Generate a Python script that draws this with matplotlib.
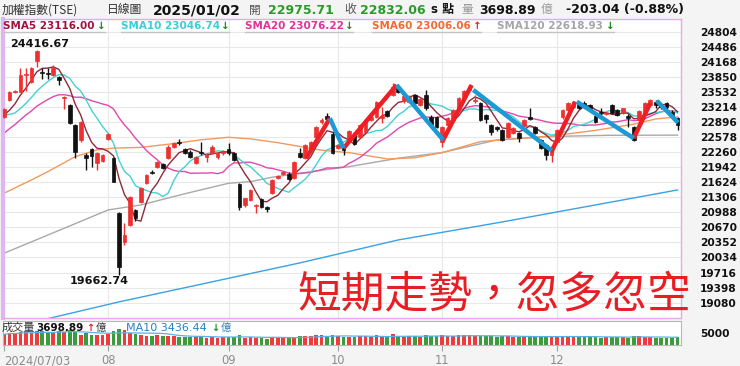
import matplotlib
matplotlib.use("Agg")
import matplotlib.pyplot as plt
import numpy as np
import pandas as pd

# trading days (TWSE, typhoon / holiday closures removed)
holidays = ["2024-07-24", "2024-07-25", "2024-09-17", "2024-10-02", "2024-10-03",
            "2024-10-10", "2024-10-31", "2025-01-01"]
days = pd.bdate_range("2024-07-03", "2025-01-02")
days = days[~days.isin(pd.to_datetime(holidays))]

opens = [23009, 23361, 23520, 23537, 23880, 23748, 24184, 23960, 23940, 23890, 23854, 23397, 23256, 22834,
         22517, 22200, 22327, 22025, 22073,
         22538, 22131, 20981, 20356, 20725, 21038, 21214, 21602, 21850, 21953, 22010, 22131, 22362, 22480,
         22320, 22270, 22025, 22260, 22160, 22236, 22164, 22236,
         22320, 22236, 21587, 21144, 21250, 21130, 21264, 21109, 21391, 21720, 21800, 21800, 21708, 22236,
         22131, 22330, 22587, 22900, 23024, 22643,
         22341, 22390, 22482, 22658, 22587, 22692, 22940, 23009, 22990, 23136, 23467, 23620, 23330, 23325,
         23467, 23256, 23467, 23009, 23009,
         22482, 22834, 22940, 23150, 23397, 23573, 23330, 23292, 23045, 22834, 22798, 22728, 22587, 22658,
         22658, 22812, 23000, 22798, 22517, 22411, 22200,
         22482, 22996, 23150, 23220, 23298, 23304, 23256, 23024, 23114, 23060, 23256, 23150, 23080, 23020,
         22798, 22940, 23114, 23256, 23325, 23280, 23300, 23114, 22975.71]
highs = [23200, 23550, 23580, 24031, 24031, 24050, 24416.67, 24031, 24031, 24100, 23870, 23452, 23280, 22860,
         22920, 22236, 22350, 22260, 22220,
         22660, 22150, 21000, 20758, 21330, 21060, 21520, 21800, 21880, 22080, 22030, 22400, 22470, 22531,
         22340, 22300, 22180, 22468, 22236, 22400, 22260, 22300,
         22447, 22260, 21600, 21300, 21480, 21165, 21290, 21130, 21700, 21780, 21870, 21830, 22080, 22341,
         22430, 22500, 22810, 22976, 23080, 22680,
         22430, 22420, 22730, 22690, 22860, 22960, 23030, 23350, 23220, 23160, 23713, 23660, 23470, 23460,
         23490, 23400, 23573, 23040, 23030,
         22820, 23000, 23170, 23420, 23580, 23678, 23467, 23310, 23070, 22860, 22820, 22750, 22890, 22800,
         22680, 22960, 23186, 22820, 22540, 22430, 22400,
         22750, 23170, 23320, 23350, 23320, 23330, 23280, 23050, 23186, 23110, 23280, 23170, 23200, 23060,
         22820, 23160, 23320, 23380, 23360, 23300, 23320, 23140, 23000]
lows = [22980, 23340, 23500, 23520, 23560, 23720, 24065, 23800, 23800, 23870, 23678, 23171, 22850, 22131,
        22480, 21883, 21953, 21883, 22050,
        22510, 21620, 19662.74, 20300, 20700, 20800, 21190, 21580, 21790, 21930, 21900, 22110, 22340, 22411,
        22210, 22130, 22000, 22200, 22058, 22210, 22116, 22200,
        22200, 22070, 21038, 21100, 21220, 20969, 21080, 21000, 21370, 21700, 21780, 21670, 21690, 22130,
        22120, 22300, 22560, 22850, 22920, 22220,
        22320, 22200, 22460, 22400, 22560, 22670, 22920, 22990, 22869, 23000, 23440, 23500, 23300, 23300,
        23270, 23230, 23160, 22800, 22770,
        22375, 22810, 22920, 23130, 23380, 23550, 23300, 22920, 22869, 22622, 22710, 22500, 22560, 22640,
        22482, 22790, 22940, 22650, 22320, 22095, 22058,
        22460, 22970, 23130, 23200, 23170, 23200, 23130, 22880, 23045, 23040, 23060, 23020, 23060, 22798,
        22500, 22920, 23100, 23240, 23200, 23170, 23170, 23020, 22728]
closes = [23171, 23524, 23556, 23890, 23910, 24031, 24390, 23930, 23915, 24031, 23784, 23431, 22870, 22257,
          22891, 22131, 22185, 22236, 22200,
          22637, 21636, 19830, 20510, 21302, 20875, 21496, 21777, 21820, 22058, 21919, 22375, 22447, 22455,
          22236, 22151, 22164, 22240, 22190, 22375, 22236, 22285,
          22236, 22095, 21109, 21285, 21460, 21150, 21109, 21053, 21672, 21750, 21847, 21688, 22058, 22151,
          22411, 22480, 22785, 22940, 22950, 22236,
          22411, 22306, 22707, 22433, 22834, 22940, 23009, 23325, 23020, 23024, 23643, 23540, 23440, 23431,
          23292, 23376, 23186, 22834, 22798,
          22798, 22976, 23150, 23397, 23558, 23643, 23370, 22940, 22960, 22692, 22742, 22517, 22869, 22770,
          22553, 22940, 22960, 22670, 22341, 22200, 22375,
          22728, 23150, 23300, 23325, 23192, 23220, 23150, 22904, 23085, 23090, 23080, 23045, 23186, 22990,
          22517, 23136, 23304, 23362, 23260, 23220, 23220, 23035.10, 22832.06]
# closes of the 19 sessions before 2024/07/03 (needed for the short averages)
prior_close = [21600, 21800, 21858, 21903, 22310, 22380, 22505, 22515, 22800, 23039,
               23406, 23253, 22950, 22818, 22798, 23032, 22880, 22950, 23192]

volume = [4800, 5600, 5200, 5900, 6100, 5500, 6200, 6400, 5800, 5600, 6300, 6100, 6700, 6000, 4600, 5200,
          4300, 4400, 4700,
          5000, 6500, 7400, 6900, 5600, 4900, 4300, 4200, 4000, 4300, 3900, 4200, 3800, 3600, 3700, 3500,
          3400, 3800, 3300, 3500, 3200, 3600,
          3700, 3500, 4300, 3300, 3400, 2900, 3000, 2800, 3600, 3300, 3100, 3200, 3700, 4200, 3900, 3800,
          4400, 4300, 4100, 4600,
          3800, 3600, 3700, 3500, 3900, 3800, 3400, 4400, 3600, 3500, 4800, 4000, 3700, 3900, 4100, 3500,
          4300, 4200, 3800,
          4400, 3900, 3800, 4400, 4300, 4500, 3900, 4200, 3800, 4100, 3600, 3900, 3800, 3500, 3700, 3600,
          3900, 3400, 4000, 3800, 3900,
          3600, 3900, 3800, 3600, 3700, 3400, 3500, 3600, 3300, 3400, 3500, 3700, 3400, 3300, 4000, 3800,
          3600, 3500, 3200, 3300, 3100, 3000, 3698.89]

# long averages (session index, value)
sma60_i = [0, 5, 8, 13, 17, 20, 25, 31, 36, 41, 45, 50, 54, 58, 63, 70, 75, 80, 87, 93, 100, 108, 115, 119, 123]
sma60_v = [21391, 21672, 21847, 22164, 22306, 22345, 22360, 22440, 22520, 22573, 22540, 22460, 22380, 22300,
           22249, 22116, 22140, 22249, 22482, 22540, 22601, 22720, 22850, 22960, 23006]
sma120_i = [0, 11, 19, 25, 33, 41, 45, 49, 55, 63, 72, 80, 90, 100, 110, 123]
sma120_v = [20124, 20652, 21038, 21144, 21380, 21602, 21636, 21730, 21830, 21953, 22131, 22250, 22517, 22590,
            22615, 22619]
sma240_i = [0, 7, 21, 54, 72, 91, 109, 123]
sma240_v = [18420, 18715, 19096, 19919, 20405, 20785, 21165, 21461]

# swing lines (start index, start price, end index, end price)
up_legs = [(55.2, 22131, 59.5, 22976), (62, 22341, 71.7, 23678), (80.2, 22517, 85.4, 23678),
           (100, 22270, 104.3, 23325), (115, 22553, 118, 23291)]
down_legs = [(59.5, 22976, 62, 22341), (71.7, 23678, 80.2, 22517), (85.7, 23573, 100, 22295),
             (104.6, 23325, 115, 22553), (119.2, 23347, 123.1, 22882)]

price_ticks = [24804, 24486, 24168, 23850, 23532, 23214, 22896, 22578, 22260, 21942, 21624, 21306, 20988,
               20670, 20352, 20034, 19716, 19398, 19080]

o = np.array(opens, float)
h = np.array(highs, float)
l = np.array(lows, float)
c = np.array(closes, float)
v = np.array(volume, float)
x = np.arange(len(c))
n0 = len(prior_close)
allc = pd.Series(prior_close + closes, dtype=float)
sma5 = allc.rolling(5).mean().values[n0:]
sma10 = allc.rolling(10).mean().values[n0:]
sma20 = allc.rolling(20).mean().values[n0:]
vma10 = pd.Series(v).rolling(10, min_periods=1).mean().values

# month starts inside Jul-Dec (the lone January session gets no label)
month_pos = [0] + [i for i in range(1, len(days))
                   if days[i].month != days[i - 1].month and days[i].year == 2024]
month_lab = ["2024/07/03"] + ["%02d" % days[i].month for i in month_pos[1:]]

W, H = 740, 366
fx = lambda px: px / W
fy = lambda py: 1 - py / H

fig = plt.figure(figsize=(7.4, 3.66), dpi=100, facecolor="#f4f4f4")
ax = fig.add_axes([fx(3), fy(318), 678 / W, 299 / H])
ax.set_facecolor("white")
ax.set_xlim(-0.18, 123.63)
ax.set_ylim(18756, 25072)

ax.set_yticks(price_ticks)
ax.set_yticklabels([str(t) for t in price_ticks], fontsize=7.7, fontweight="bold", color="#111")
ax.yaxis.tick_right()
ax.tick_params(axis="y", length=0, pad=13.5)
ax.set_xticks([])
ax.grid(axis="y", color="#e8e8e8", lw=0.8)
for m in month_pos[1:]:
    ax.axvline(m, color="#e8e8e8", lw=0.8, zorder=0)
for s in ax.spines.values():
    s.set_color("#e8a8ec")
    s.set_linewidth(1)
ax.spines["left"].set_linewidth(3)
ax.spines["left"].set_color("#e0b6f0")

# long averages
ax.plot(sma240_i, sma240_v, color="#3aa2e2", lw=1, zorder=2)
ax.plot(sma120_i, sma120_v, color="#a9a9a9", lw=1, zorder=2)
ax.plot(sma60_i, sma60_v, color="#f29a5e", lw=1, zorder=2)
ax.plot(x, sma20, color="#e148b0", lw=1, zorder=2)
ax.plot(x, sma10, color="#44d2d2", lw=1, zorder=2)
ax.plot(x, sma5, color="#8e2a3a", lw=1, zorder=2)

# candles
up = c >= o
col = np.where(up, "#ee3030", "#111111")
ax.vlines(x, l, h, colors=col, lw=1, zorder=3)
body_lo = np.minimum(o, c)
body_h = np.maximum(np.abs(c - o), 12)
ax.bar(x, body_h, bottom=body_lo, width=0.68, color=col, edgecolor=col, lw=0.5, zorder=4)

for a, b, cc, d in up_legs:
    ax.plot([a, cc], [b, d], color="#ee1f24", lw=3.2, solid_capstyle="butt", zorder=5)
for a, b, cc, d in down_legs:
    ax.plot([a, cc], [b, d], color="#1d9ad6", lw=3.2, solid_capstyle="butt", zorder=5)

ax.text(1.1, 24544, "24416.67", fontsize=8, fontweight="bold", color="#111", va="center", ha="left")
ax.text(12.05, 19539, "19662.74", fontsize=8, fontweight="bold", color="#111", va="center", ha="left")

# volume panel
axv = fig.add_axes([fx(3), fy(344.5), 678 / W, 23.5 / H])
axv.set_facecolor("white")
axv.set_xlim(-0.18, 123.63)
axv.set_ylim(0, 11100)
vcol = np.where(up, "#ee3b3b", "#3c9c3c")
axv.bar(x, v, width=0.68, color=vcol, zorder=2)
axv.plot(x, vma10, color="#5ab0e6", lw=0.9, zorder=3)
axv.set_yticks([])
axv.set_xticks(month_pos)
axv.set_xticklabels(month_lab, fontsize=8.3, color="#8c8c8c")
axv.get_xticklabels()[0].set_ha("left")
axv.tick_params(axis="x", length=4.5, color="#a0a0a0", pad=2.5)
for s in axv.spines.values():
    s.set_color("#b8b8b8")
    s.set_linewidth(0.8)

CJK = ["Noto Sans CJK TC", "DejaVu Sans"]
MIX = ["DejaVu Sans", "Noto Sans CJK TC"]

def t(px, py, s, **kw):
    kw.setdefault("va", "center")
    kw.setdefault("ha", "left")
    fig.text(fx(px), fy(py), s, **kw)

# header
t(2, 10, "加權指數(TSE)", fontsize=8.5, color="#333", family=CJK)
t(107, 10, "日線圖", fontsize=8.5, color="#333", family=CJK)
t(153, 10, "2025/01/02", fontsize=10, fontweight="bold", color="#111")
t(249, 10, "開", fontsize=8.5, color="#555", family=CJK)
t(268, 10, "22975.71", fontsize=9, fontweight="bold", color="#2b9a2b")
t(344, 10, "收", fontsize=8.5, color="#555", family=CJK)
t(360, 10, "22832.06", fontsize=9, fontweight="bold", color="#2b9a2b")
t(431, 10, "s 點", fontsize=8.5, fontweight="bold", color="#111", family=MIX)
t(461, 10, "量", fontsize=8.5, color="#999", family=CJK)
t(479, 10, "3698.89", fontsize=9, fontweight="bold", color="#111")
t(541, 10, "億", fontsize=8.5, color="#999", family=CJK)
t(566, 10, "-203.04 (-0.88%)", fontsize=9, fontweight="bold", color="#111")

# moving average legend
legend = [(3, "SMA5 23116.00", "#a0143c", "↓", "#1a8a1a", 105),
          (121, "SMA10 23046.74", "#3ccdd6", "↓", "#1a8a1a", 229),
          (245, "SMA20 23076.22", "#e0329c", "↓", "#1a8a1a", 353),
          (372, "SMA60 23006.06", "#f06a32", "↑", "#e82020", 481),
          (497, "SMA120 22618.93", "#a6a6a6", "↓", "#1a8a1a", 614)]
for px, s, cl, arr, acl, end in legend:
    t(px, 26, s, fontsize=7.5, fontweight="bold", color=cl)
    t(end - 8, 26, arr, fontsize=7.5, fontweight="bold", color=acl)
    fig.add_artist(plt.Line2D([fx(px), fx(end)], [fy(32), fy(32)], color="#c4c4c4", lw=1))

# volume labels
t(2, 328, "成交量", fontsize=8, color="#333", family=CJK)
t(36, 328, "3698.89", fontsize=7.5, fontweight="bold", color="#111")
t(86, 328, "↑", fontsize=7, fontweight="bold", color="#e82020")
t(96, 328, "億", fontsize=7.5, color="#333", family=CJK)
t(126, 328, "MA10 3436.44", fontsize=8, color="#2a7fc0")
t(211, 328, "↓", fontsize=7, fontweight="bold", color="#1a8a1a")
t(221, 328, "億", fontsize=7.5, color="#2a7fc0", family=CJK)
t(700, 334, "5000", fontsize=7.7, fontweight="bold", color="#111")

t(297, 294, "短期走勢，忽多忽空", fontsize=31.5, color="#e81e25", family=CJK)

fig.savefig("out.png", dpi=100, facecolor=fig.get_facecolor())
